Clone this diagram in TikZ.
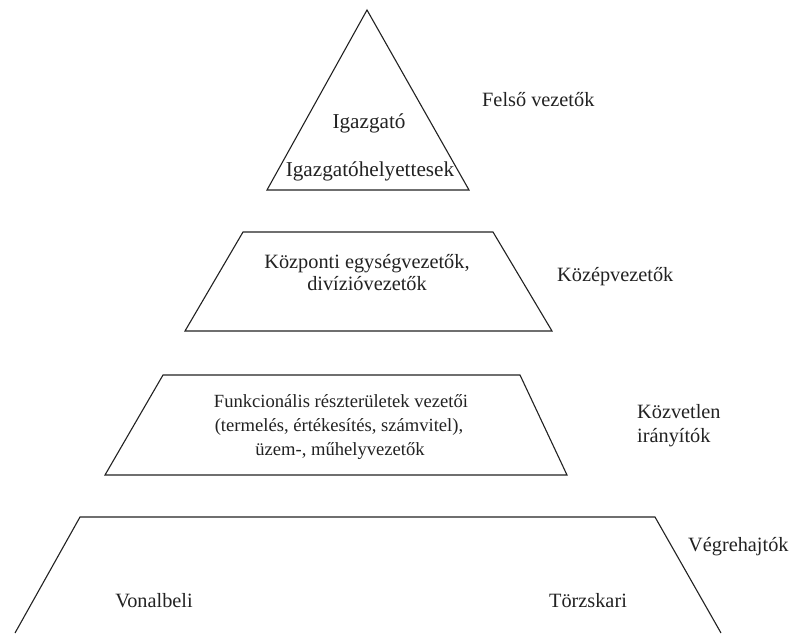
\documentclass[tikz,border=0pt]{standalone}
\usepackage{fontspec}
\setmainfont{Liberation Serif}
\definecolor{ink}{HTML}{222222}
\begin{document}
\begin{tikzpicture}[x=1pt,y=-1pt,
  shape line/.style={draw=ink,line width=1.1pt,line join=miter},
  lbl/.style={inner sep=0pt,anchor=base,text=ink,font=\fontsize{20.3}{24}\selectfont},
  lbll/.style={lbl,anchor=base west},
  lbls/.style={lbl,font=\fontsize{18.6}{24}\selectfont},
  lblb/.style={lbl,font=\fontsize{21.2}{24}\selectfont}]
\useasboundingbox[fill=white] (0,0) rectangle (792,633);
\begin{scope}
\clip (0,0) rectangle (792,633);
% top triangle
\draw[shape line] (367,10) -- (469,190) -- (267,190) -- cycle;
% second trapezoid
\draw[shape line] (243,232) -- (493,232) -- (552,331) -- (185,331) -- cycle;
% third trapezoid
\draw[shape line] (163,375) -- (520,375) -- (567,475) -- (105,475) -- cycle;
% bottom trapezoid (cut off by the page edge)
\draw[shape line] (15,633) -- (80,517) -- (655,517) -- (721,633);
\end{scope}
\node[lblb] (igazgato) at (369,128) {Igazgató};
\node[lblb] (helyettes) at (370,176) {Igazgatóhelyettesek};
\node[lbll] (felso) at (482,106) {Felső vezetők};
\node[lbl] (kozponti1) at (367,268) {Központi egységvezetők,};
\node[lbl] (kozponti2) at (367,290) {divízióvezetők};
\node[lbll] (kozep) at (557,281) {Középvezetők};
\node[lbls] (funk1) at (341,407) {Funkcionális részterületek vezetői};
\node[lbls] (funk2) at (339,431) {(termelés, értékesítés, számvitel),};
\node[lbls] (funk3) at (340,455) {üzem-, műhelyvezetők};
\node[lbll] (kozvetlen1) at (637,418) {Közvetlen};
\node[lbll] (kozvetlen2) at (637,442) {irányítók};
\node[lbll] (vegre) at (688,551) {Végrehajtók};
\node[lbl] (vonal) at (154,607) {Vonalbeli};
\node[lbl] (torzs) at (588,607) {Törzskari};
\end{tikzpicture}
\end{document}
